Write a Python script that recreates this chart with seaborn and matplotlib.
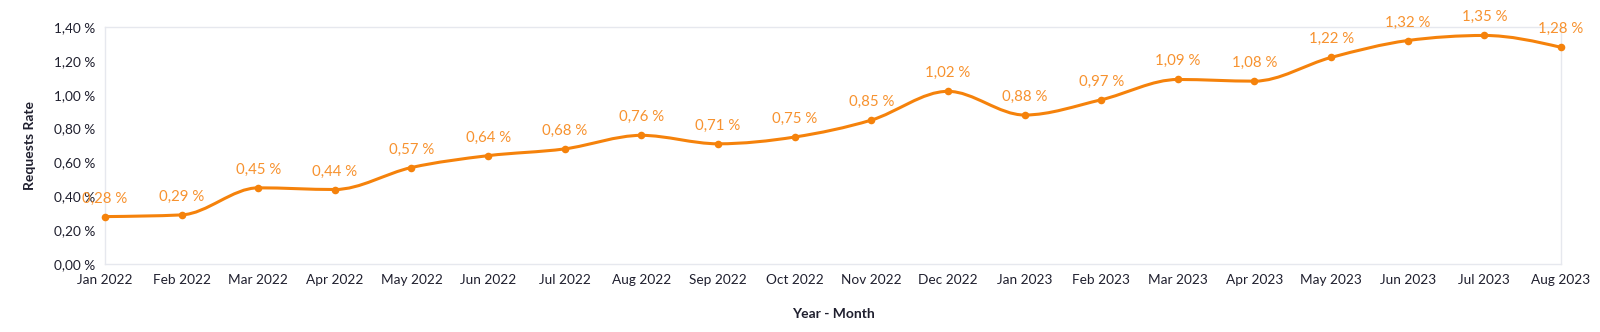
import numpy as np
import pandas as pd
import matplotlib
matplotlib.use("Agg")
import matplotlib.pyplot as plt
import seaborn as sns
from matplotlib.path import Path
from matplotlib.patches import PathPatch

months = ["Jan 2022", "Feb 2022", "Mar 2022", "Apr 2022", "May 2022", "Jun 2022",
          "Jul 2022", "Aug 2022", "Sep 2022", "Oct 2022", "Nov 2022", "Dec 2022",
          "Jan 2023", "Feb 2023", "Mar 2023", "Apr 2023", "May 2023", "Jun 2023",
          "Jul 2023", "Aug 2023"]
rates = [0.28, 0.29, 0.45, 0.44, 0.57, 0.64, 0.68, 0.76, 0.71, 0.75, 0.85, 1.02,
         0.88, 0.97, 1.09, 1.08, 1.22, 1.32, 1.35, 1.28]
y_ticks = [0.0, 0.2, 0.4, 0.6, 0.8, 1.0, 1.2, 1.4]

df = pd.DataFrame({"pos": np.arange(len(months)), "month": months, "rate": rates})

sns.set_theme(style="white")
plt.rcParams["font.family"] = ["Lato", "DejaVu Sans"]

LINE = "#f5820b"
LABEL = "#f7922f"
GRID = "#e6e8ee"
TEXT = "#1f1f2e"

fig = plt.figure(figsize=(16, 3.32), dpi=100)
ax = fig.add_axes([0.0656, 0.2048, 0.91, 0.7139])

# smooth monotone cubic (d3 curveMonotoneX style) drawn as bezier path
x = df["pos"].to_numpy(dtype=float)
y = df["rate"].to_numpy(dtype=float)
n = len(x)
h = np.diff(x)
s = np.diff(y) / h
t = np.zeros(n)
for i in range(1, n - 1):
    if s[i - 1] * s[i] <= 0:
        t[i] = 0
    else:
        p = (s[i - 1] * h[i] + s[i] * h[i - 1]) / (h[i - 1] + h[i])
        t[i] = (np.sign(s[i - 1]) + np.sign(s[i])) * min(abs(s[i - 1]), abs(s[i]), 0.5 * abs(p))
t[0] = (3 * s[0] - t[1]) / 2 if n > 2 else s[0]
t[-1] = (3 * s[-1] - t[-2]) / 2 if n > 2 else s[-1]
verts = [(x[0], y[0])]
codes = [Path.MOVETO]
for i in range(n - 1):
    dx = (x[i + 1] - x[i]) / 3
    verts += [(x[i] + dx, y[i] + dx * t[i]), (x[i + 1] - dx, y[i + 1] - dx * t[i + 1]), (x[i + 1], y[i + 1])]
    codes += [Path.CURVE4] * 3
ax.add_patch(PathPatch(Path(verts, codes), fill=False, edgecolor=LINE, lw=2.2, zorder=3, clip_on=False))

sns.scatterplot(data=df, x="pos", y="rate", ax=ax, color=LINE, s=30, edgecolor=LINE,
                linewidth=0, zorder=4, clip_on=False, legend=False)

for xi, yi in zip(x, y):
    ax.annotate(f"{yi:.2f} %".replace(".", ","), (xi, yi), xytext=(0, 8),
                textcoords="offset points", ha="center", va="bottom",
                color=LABEL, fontsize=10.8, zorder=5)

ax.set_xlim(0, n - 1)
ax.set_ylim(0, 1.4)
ax.set_xticks(df["pos"])
ax.set_xticklabels(months)
ax.set_yticks(y_ticks)
ax.set_yticklabels([f"{v:.2f} %".replace(".", ",") for v in y_ticks])
ax.tick_params(axis="both", colors=GRID, labelcolor=TEXT, labelsize=9.8, length=5, width=1)
ax.tick_params(axis="x", pad=2)
ax.tick_params(axis="y", pad=2)
for sp in ax.spines.values():
    sp.set_color(GRID)
    sp.set_linewidth(1)
ax.grid(False)
ax.set_xlabel("Year - Month", fontsize=10, fontweight="bold", color=TEXT, labelpad=16)
ax.set_ylabel("Requests Rate", fontsize=10, fontweight="bold", color=TEXT, labelpad=13)

fig.savefig("out.png", dpi=100)
